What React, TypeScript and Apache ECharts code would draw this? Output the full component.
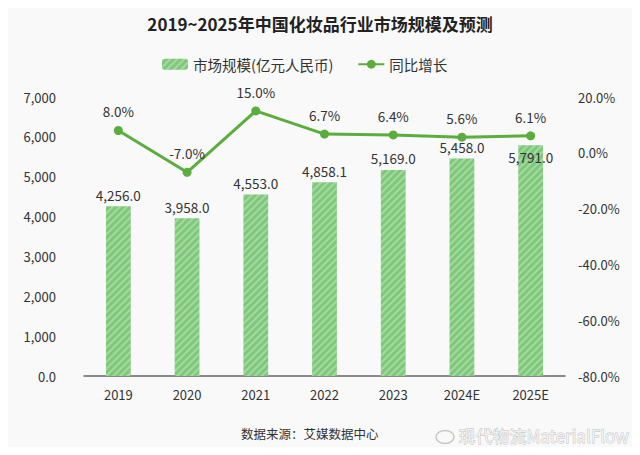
import React, { useEffect, useRef } from "react";
import * as echarts from "echarts";

const categories = ["2019", "2020", "2021", "2022", "2023", "2024E", "2025E"];
const marketSize = [4256.0, 3958.0, 4553.0, 4858.1, 5169.0, 5458.0, 5791.0];
const growth = [8.0, -7.0, 15.0, 6.7, 6.4, 5.6, 6.1];
const title = "2019~2025年中国化妆品行业市场规模及预测";
const seriesNames = ["市场规模(亿元人民币)", "同比增长"];
const source = "数据来源：艾媒数据中心";
const watermark = "现代物流MaterialFlow";

const FONT = "'Noto Sans CJK SC', 'Noto Sans', sans-serif";
const GREEN = "#7ec87a";
const LINE = "#5bad3e";

const fmt = (v: number) =>
  v.toLocaleString("en-US", { minimumFractionDigits: 1, maximumFractionDigits: 1 });

export default function App() {
  const ref = useRef<HTMLDivElement>(null);
  useEffect(() => {
    if (!ref.current) return;
    const chart = echarts.init(ref.current, null, { renderer: "svg" });
    const decal = {
      symbol: "rect",
      symbolSize: 1,
      dashArrayX: [1, 0],
      dashArrayY: [1.5, 2.5],
      rotation: -Math.PI / 4,
      color: "rgba(255,255,255,0.3)",
    };
    const barData = marketSize.map((v, i) =>
      i === marketSize.length - 1 ? { value: v, label: { offset: [0, 24] } } : v
    );
    chart.setOption({
      animation: false,
      backgroundColor: "#f9f9f9",
      textStyle: { fontFamily: FONT },
      title: {
        text: title,
        left: "center",
        top: 10,
        textStyle: { fontSize: 17, fontWeight: "bold", color: "#222", fontFamily: FONT },
      },
      legend: {
        top: 52,
        left: 157,
        itemGap: 24,
        itemWidth: 26,
        itemHeight: 11,
        textStyle: { fontSize: 14.5, color: "#333", fontFamily: FONT },
        data: [seriesNames[0], seriesNames[1]],
      },
      graphic: [
        {
          type: "text",
          left: 241,
          top: 427,
          style: { text: source, fontSize: 12.5, fill: "#333", fontFamily: FONT },
        },
        {
          type: "ellipse",
          shape: { cx: 445, cy: 437, rx: 9, ry: 6.5 },
          style: { fill: "none", stroke: "#c8c8c8", lineWidth: 1.5 },
        },
        {
          type: "text",
          left: 458,
          top: 427,
          style: {
            text: watermark,
            fontSize: 17,
            fill: "#f2f2f2",
            stroke: "#bdbdbd",
            lineWidth: 0.8,
            fontFamily: FONT,
          },
        },
      ],
      grid: { left: 84, right: 75, top: 97, bottom: 79 },
      xAxis: {
        type: "category",
        data: categories,
        axisLine: { lineStyle: { color: "#666", width: 1.5 } },
        axisTick: { show: false },
        axisLabel: { fontSize: 13, color: "#333", margin: 12, fontFamily: FONT },
      },
      yAxis: [
        {
          type: "value",
          min: 0,
          max: 7000,
          interval: 1000,
          splitLine: { show: false },
          axisLine: { show: false },
          axisTick: { show: false },
          axisLabel: {
            fontSize: 13,
            color: "#333",
            margin: 28,
            fontFamily: FONT,
            formatter: (v: number) => (v === 0 ? "0.0" : v.toLocaleString("en-US")),
          },
        },
        {
          type: "value",
          min: -80,
          max: 20,
          interval: 20,
          splitLine: { show: false },
          axisLine: { show: false },
          axisTick: { show: false },
          axisLabel: {
            fontSize: 13,
            color: "#333",
            margin: 13,
            fontFamily: FONT,
            formatter: (v: number) => v.toFixed(1) + "%",
          },
        },
      ],
      series: [
        {
          name: seriesNames[0],
          type: "bar",
          data: barData,
          barWidth: "36%",
          itemStyle: { color: GREEN, decal },
          label: {
            show: true,
            position: "top",
            distance: 5,
            fontSize: 13.5,
            color: "#333",
            fontFamily: FONT,
            formatter: (p: any) => fmt(p.value),
          },
        },
        {
          name: seriesNames[1],
          type: "line",
          yAxisIndex: 1,
          data: growth,
          symbol: "circle",
          symbolSize: 9,
          lineStyle: { color: LINE, width: 3 },
          itemStyle: { color: LINE },
          label: {
            show: true,
            position: "top",
            distance: 8,
            fontSize: 13.5,
            color: "#333",
            fontFamily: FONT,
            formatter: (p: any) => p.value.toFixed(1) + "%",
          },
        },
      ],
    });
    return () => chart.dispose();
  }, []);
  return <div ref={ref} style={{ width: 640, height: 455, margin: -8 }} />;
}
